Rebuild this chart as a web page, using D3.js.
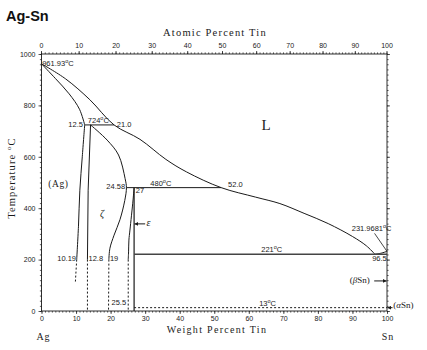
<!DOCTYPE html>
<html><head><meta charset="utf-8">
<script src="https://cdn.jsdelivr.net/npm/d3@7"></script>
<style>
html,body{margin:0;padding:0;background:#fff;}
svg{display:block;}
</style></head>
<body>
<svg id="chart" width="427" height="350"></svg>
<script>
// ---------- DATA ----------
const wtTicks = [0,10,20,30,40,50,60,70,80,90,100];
const atTicks = [0,10,20,30,40,50,60,70,80,90,100];
const tempTicks = [0,200,400,600,800,1000];
const massAg = 107.87, massSn = 118.71;

// curves: [weight % Sn, temperature °C]
const liquidus = [[0,961.93],[7,903],[14,822],[21.0,724],[28.5,668],[36,590],[42,541],[52.0,480],[62,443],[69,418],[76,380],[83,340],[90,290],[94,254],[96.5,221]];
const snLiquidus = [[96.5,221],[98.3,225],[100,231.97]];
const agSolidus = [[0,961.93],[4,905],[8,845],[11,785],[12.5,724]];
const agSolvus = [[12.5,724],[11.8,600],[11.1,470],[10.7,330],[10.19,200]];
const agSolvusDash = [[10.19,200],[9.8,112]];
const zetaLeft = [[14.2,724],[13.5,470],[13.3,200]];
const zetaLeftDash = [[13.3,200],[13.3,0]];
const zetaRight = [[14.2,724],[19,665],[22.3,607],[24.2,515],[24.58,480],[24.1,430],[22.7,355],[21,295],[19.8,244],[19.5,200]];
const zetaRightDash = [[19.5,200],[19.4,0]];
const epsLeft = [[26.8,480],[26.5,432],[25.6,315],[25.3,276],[25.2,230],[25.1,200]];
const epsLeftDash = [[25.1,200],[25.1,0]];
const epsRight = [[26.8,480],[26.8,0]];
const iso724 = [[12.5,724],[21.0,724]];
const iso480 = [[24.58,480],[52.0,480]];
const iso221 = [[26.8,221],[100,221]];
const iso13 = [[26.8,13],[100,13]];

// text labels: [text, unit, wt, temp, anchor]
const pointLabels = [
  ["961.93","°C",0.2,952,"start"],
  ["12.5","",12.0,717,"end"],
  ["724","°C",13.4,730,"start"],
  ["21.0","",21.8,717,"start"],
  ["24.58","",24.2,473,"end"],
  ["27","",27.3,460,"start"],
  ["480","°C",31.5,486,"start"],
  ["52.0","",54.0,482,"start"],
  ["231.9681","°C",89.8,310,"start"],
  ["96.5","",95.7,193,"start"],
  ["221","°C",63.6,228,"start"],
  ["13","°C",63.0,20,"start"],
  ["10.19","",10.0,193,"end"],
  ["12.8","",13.6,193,"start"],
  ["19","",19.8,193,"start"],
  ["25.5","",24.5,22,"end"]
];

// ---------- SCALES ----------
const x = d3.scaleLinear().domain([0,100]).range([41.5,387]);
const y = d3.scaleLinear().domain([0,1000]).range([311,54]);
const atToWt = a => 100*a*massSn/(a*massSn+(100-a)*massAg);

const svg = d3.select("#chart");
const ink = "#1a1a1a";
const straight = d3.line().x(d=>x(d[0])).y(d=>y(d[1]));
const smooth = d3.line().x(d=>x(d[0])).y(d=>y(d[1])).curve(d3.curveCatmullRom.alpha(0.5));

// title
svg.append("text").attr("x",6).attr("y",21).text("Ag-Sn")
  .attr("font-family","Liberation Sans, Arial, sans-serif").attr("font-weight","bold").attr("font-size",14.5).attr("fill","#111");

// frame
const g = svg.append("g");
g.append("rect").attr("x",x(0)).attr("y",y(1000)).attr("width",x(100)-x(0)).attr("height",y(0)-y(1000))
  .attr("fill","none").attr("stroke",ink).attr("stroke-width",0.9);

const tickFont = "Liberation Sans, Arial, sans-serif";
// bottom axis
const bottomAx = g.append("g").attr("transform",`translate(0,${y(0)})`)
  .call(d3.axisBottom(x).tickValues(wtTicks).tickSize(3).tickPadding(2).tickFormat(d3.format("d")));
const bottomMinor = g.append("g").attr("transform",`translate(0,${y(0)})`)
  .call(d3.axisBottom(x).tickValues(d3.range(0,101,1)).tickSize(1.6).tickFormat(""));
// left axis
const leftAx = g.append("g").attr("transform",`translate(${x(0)},0)`)
  .call(d3.axisLeft(y).tickValues(tempTicks).tickSize(3).tickPadding(3).tickFormat(d3.format("d")));
const leftMinor = g.append("g").attr("transform",`translate(${x(0)},0)`)
  .call(d3.axisLeft(y).tickValues(d3.range(0,1001,20)).tickSize(1.6).tickFormat(""));
// right axis
const rightAx = g.append("g").attr("transform",`translate(${x(100)},0)`)
  .call(d3.axisRight(y).tickValues(tempTicks).tickSize(3).tickFormat(""));
const rightMinor = g.append("g").attr("transform",`translate(${x(100)},0)`)
  .call(d3.axisRight(y).tickValues(d3.range(0,1001,20)).tickSize(1.6).tickFormat(""));
// top axis (atomic percent)
const topAx = g.append("g").attr("transform",`translate(0,${y(1000)})`);
topAx.selectAll("line.maj").data(atTicks).join("line").attr("class","maj")
  .attr("x1",d=>x(atToWt(d))).attr("x2",d=>x(atToWt(d))).attr("y1",0).attr("y2",-3).attr("stroke",ink).attr("stroke-width",0.8);
topAx.selectAll("line.min").data(d3.range(0,101,1)).join("line").attr("class","min")
  .attr("x1",d=>x(atToWt(d))).attr("x2",d=>x(atToWt(d))).attr("y1",0).attr("y2",-1.6).attr("stroke",ink).attr("stroke-width",0.7);
topAx.selectAll("text").data(atTicks).join("text")
  .attr("x",d=>x(atToWt(d))).attr("y",-6).attr("text-anchor","middle").text(d=>d)
  .attr("font-family",tickFont).attr("font-size",7).attr("fill",ink);

[bottomAx,bottomMinor,leftAx,leftMinor,rightAx,rightMinor].forEach(a=>{
  a.select(".domain").remove();
  a.selectAll("line").attr("stroke",ink).attr("stroke-width",0.7);
  a.selectAll("text").attr("font-family",tickFont).attr("font-size",7).attr("fill",ink);
});

// axis titles
const serif = "Liberation Serif, Times New Roman, serif";
svg.append("text").attr("x",215).attr("y",36).attr("text-anchor","middle").text("Atomic Percent Tin")
  .attr("font-family",serif).attr("font-size",10.5).attr("letter-spacing",1.2).attr("fill",ink);
svg.append("text").attr("x",217).attr("y",333).attr("text-anchor","middle").text("Weight Percent Tin")
  .attr("font-family",serif).attr("font-size",10).attr("letter-spacing",1.3).attr("fill",ink);
const yt = svg.append("text").attr("transform","translate(15,178) rotate(-90)").attr("text-anchor","middle")
  .attr("font-family",serif).attr("font-size",10.5).attr("letter-spacing",1.1).attr("fill",ink);
yt.append("tspan").text("Temperature ");
yt.append("tspan").text("o").attr("font-size",7).attr("dy",-4);
yt.append("tspan").text("C").attr("dy",4);
svg.append("text").attr("x",x(0)+2).attr("y",340).attr("text-anchor","middle").text("Ag")
  .attr("font-family",serif).attr("font-size",10).attr("letter-spacing",1).attr("fill",ink);
svg.append("text").attr("x",x(100)+1).attr("y",340).attr("text-anchor","middle").text("Sn")
  .attr("font-family",serif).attr("font-size",10).attr("letter-spacing",1).attr("fill",ink);

// phase lines
const plot = svg.append("g").attr("fill","none").attr("stroke",ink).attr("stroke-width",1);
plot.append("path").attr("d",smooth(liquidus));
plot.append("path").attr("d",smooth(snLiquidus));
plot.append("path").attr("d",smooth(agSolidus));
plot.append("path").attr("d",smooth(agSolvus));
plot.append("path").attr("d",straight(agSolvusDash)).attr("stroke-dasharray","2,2");
plot.append("path").attr("d",straight(zetaLeft));
plot.append("path").attr("d",straight(zetaLeftDash)).attr("stroke-dasharray","2,2");
plot.append("path").attr("d",smooth(zetaRight));
plot.append("path").attr("d",straight(zetaRightDash)).attr("stroke-dasharray","2,2");
plot.append("path").attr("d",smooth(epsLeft));
plot.append("path").attr("d",straight(epsLeftDash)).attr("stroke-dasharray","2,2");
plot.append("path").attr("d",straight(epsRight)).attr("stroke-width",1.2);
plot.append("path").attr("d",straight(iso724));
plot.append("path").attr("d",straight(iso480));
plot.append("path").attr("d",straight(iso221)).attr("stroke-width",1.6).attr("stroke","#444");
plot.append("path").attr("d",straight(iso13)).attr("stroke-dasharray","2,2");
// pointer from 231.9681 label to Sn melting point
plot.append("path").attr("d",straight([[96.4,302],[100,231.97]])).attr("stroke-width",0.8);

// point labels
const lab = svg.append("g").attr("font-family",tickFont).attr("font-size",7.5).attr("fill",ink);
pointLabels.forEach(([t,u,w,T,anch])=>{
  const tx = lab.append("text").attr("x",x(w)).attr("y",y(T)).attr("text-anchor",anch);
  tx.append("tspan").text(t);
  if(u){
    tx.append("tspan").text("o").attr("font-size",5.5).attr("dy",-3);
    tx.append("tspan").text("C").attr("dy",3);
  }
});

// phase labels
svg.append("text").attr("x",x(4.9)).attr("y",y(482)).attr("text-anchor","middle").text("(Ag)")
  .attr("font-family",serif).attr("font-size",9.5).attr("letter-spacing",0.6).attr("fill",ink);
svg.append("text").attr("x",x(17.5)).attr("y",y(365)).attr("text-anchor","middle").text("ζ")
  .attr("font-family",serif).attr("font-size",10).attr("font-style","italic").attr("fill",ink);
svg.append("text").attr("x",x(30.4)).attr("y",y(330)).attr("text-anchor","start").text("ε")
  .attr("font-family",serif).attr("font-size",10).attr("font-style","italic").attr("fill",ink);
svg.append("text").attr("x",x(65)).attr("y",y(703)).attr("text-anchor","middle").text("L")
  .attr("font-family",serif).attr("font-size",15).attr("fill",ink);
const bs = svg.append("text").attr("x",x(89.2)).attr("y",y(110)).attr("text-anchor","start")
  .attr("font-family",serif).attr("font-size",9).attr("fill",ink);
bs.append("tspan").text("(");
bs.append("tspan").text("β").attr("font-style","italic");
bs.append("tspan").text("Sn)");
const as = svg.append("text").attr("x",x(101.8)).attr("y",y(10)).attr("text-anchor","start")
  .attr("font-family",serif).attr("font-size",9).attr("fill",ink);
as.append("tspan").text("(");
as.append("tspan").text("α").attr("font-style","italic");
as.append("tspan").text("Sn)");

// arrows
const defs = svg.append("defs");
defs.append("marker").attr("id","ah").attr("viewBox","0 0 6 6").attr("refX",6).attr("refY",3)
  .attr("markerWidth",4).attr("markerHeight",4).attr("orient","auto")
  .append("path").attr("d","M0,0L6,3L0,6Z").attr("fill",ink);
const arrows = [[[30.0,339],[26.9,339]],[[96.3,117],[99.9,117]],[[101.6,13],[100.1,13]]];
arrows.forEach(a=>{
  svg.append("path").attr("d",straight(a)).attr("stroke",ink).attr("stroke-width",1).attr("fill","none").attr("marker-end","url(#ah)");
});
</script>
</body></html>
